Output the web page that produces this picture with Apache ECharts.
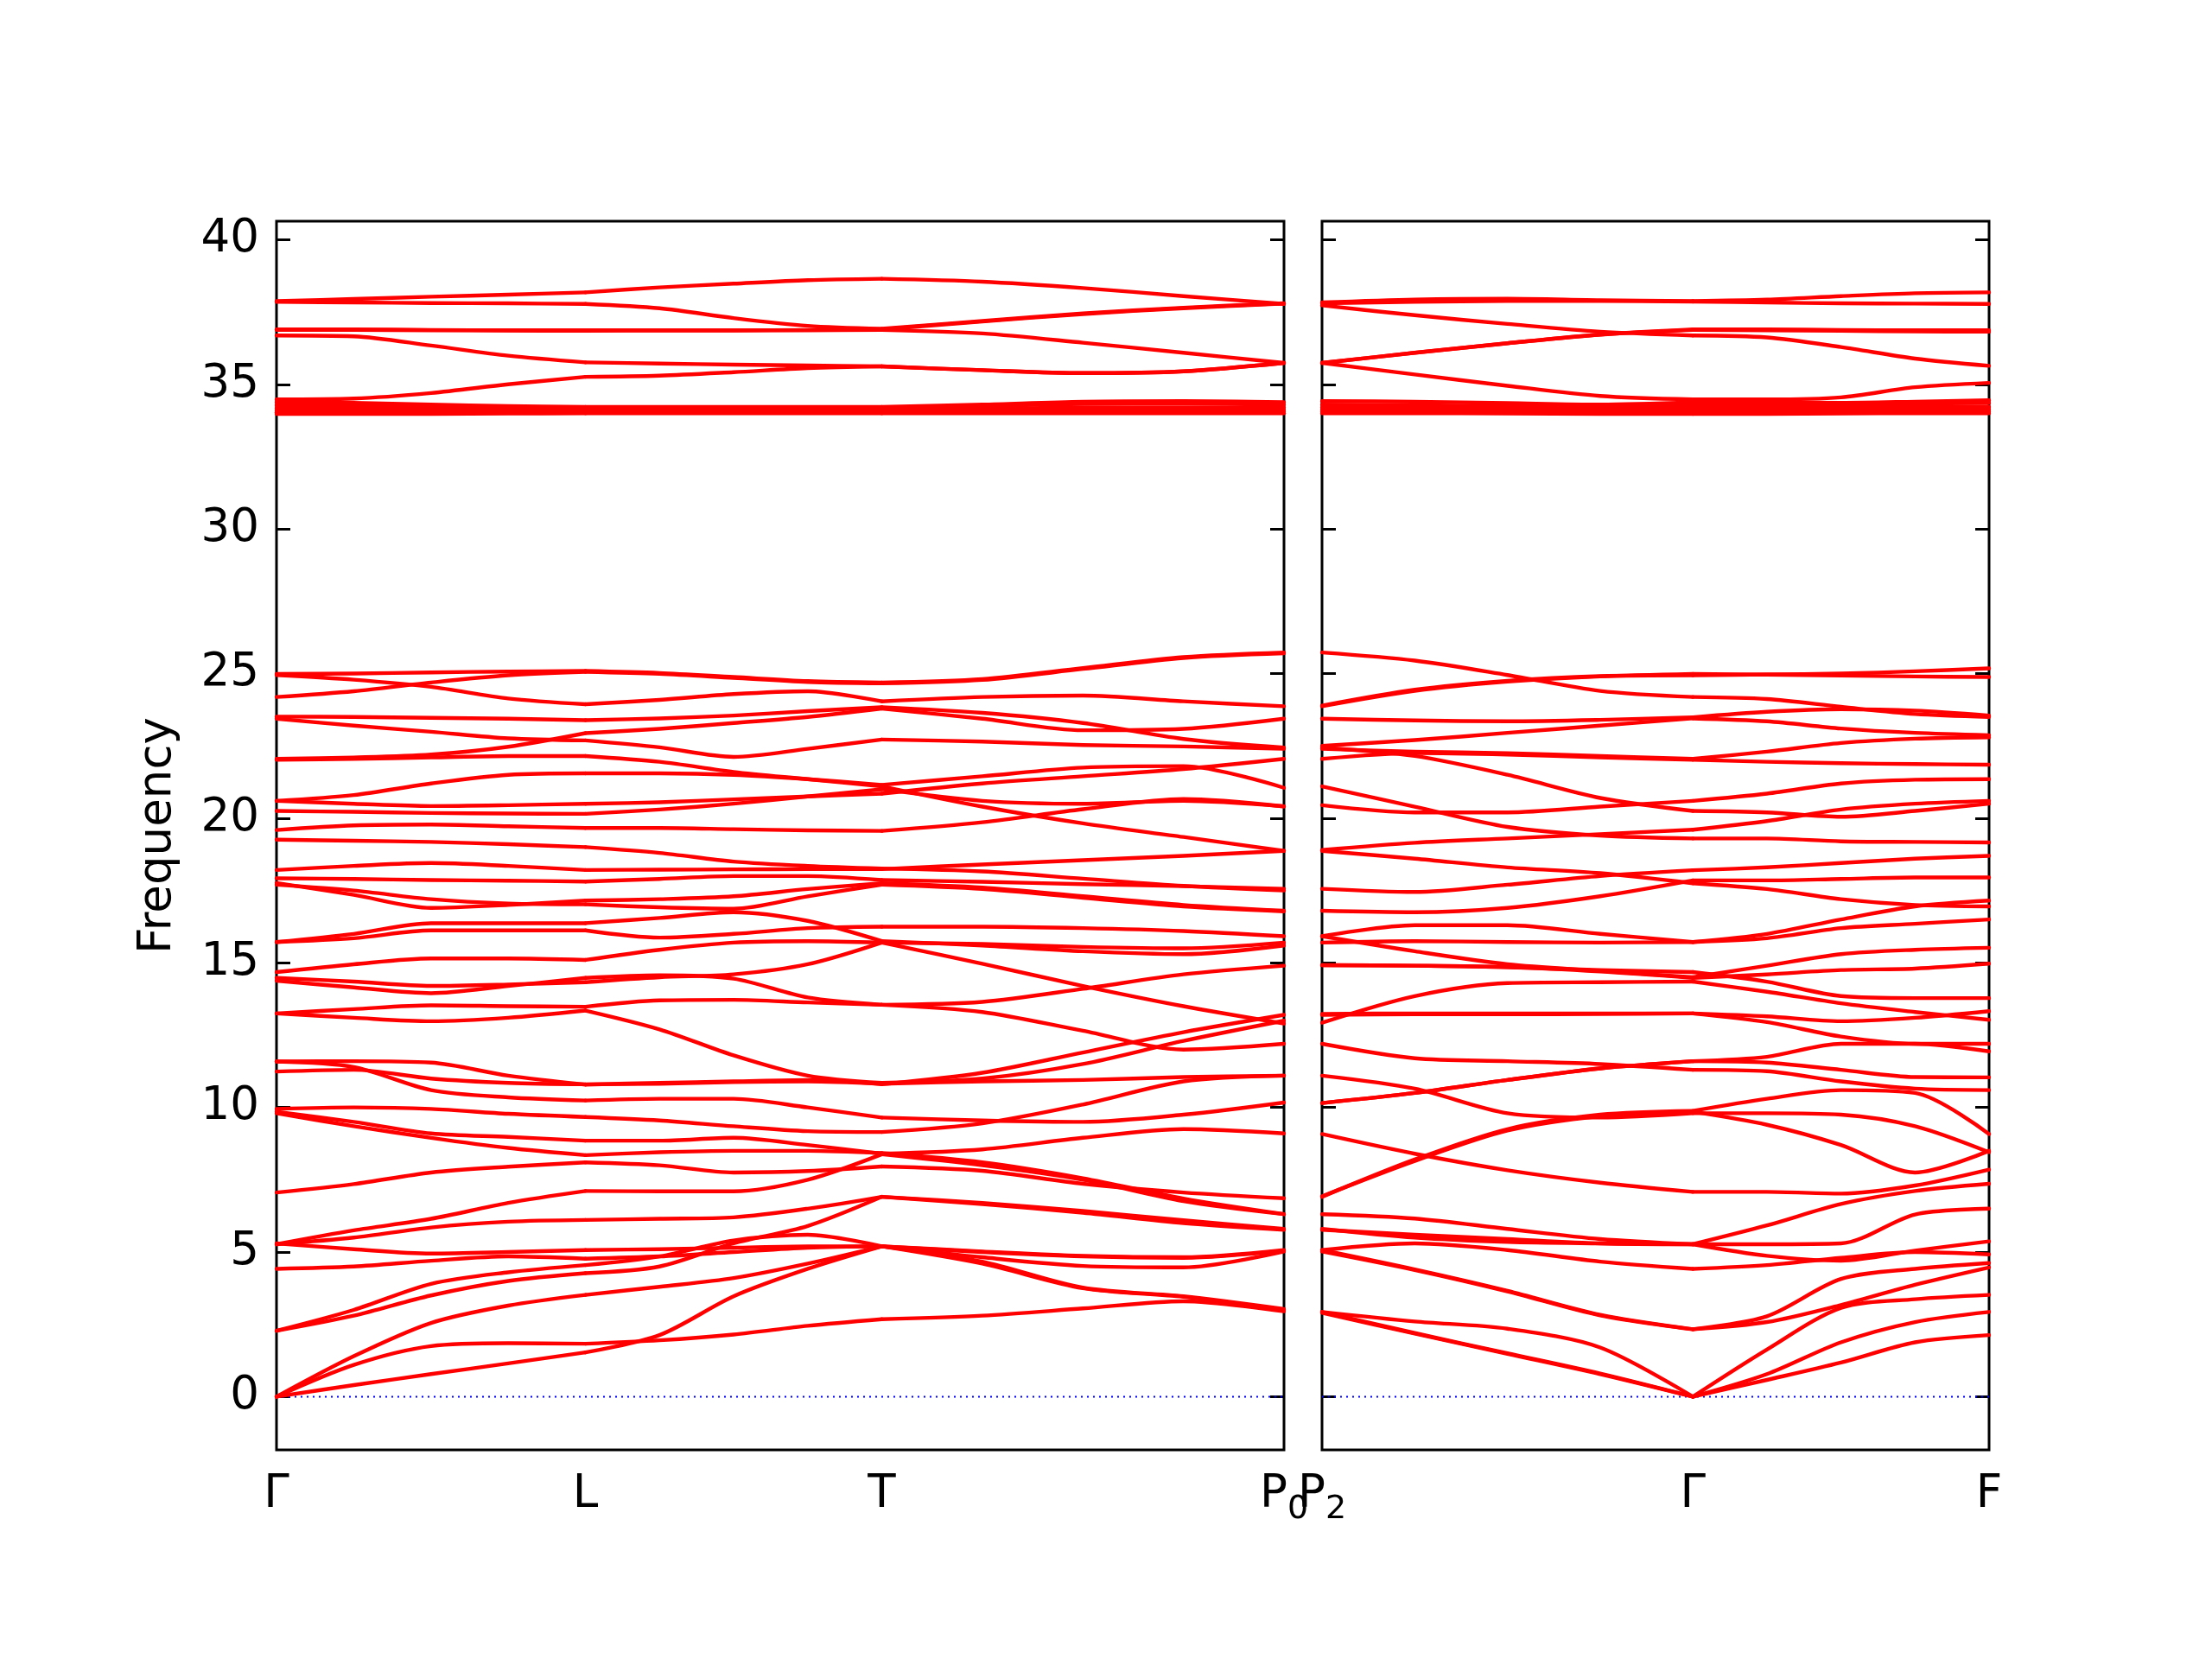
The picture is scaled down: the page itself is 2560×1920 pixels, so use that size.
<!DOCTYPE html>
<html><head><meta charset="utf-8">
<script src="https://cdn.jsdelivr.net/npm/echarts@6/dist/echarts.min.js"></script>
<style>html,body{margin:0;padding:0;background:#fff}#c{width:2560px;height:1920px}</style>
</head><body><div id="c"></div>
<script>
// ---- k-path (normalised distance) and labels ----
const leftKTicks = [0, 0.3067, 0.6008, 1.0];
const leftKLabels = ['Γ', 'L', 'T', '{p|P}{s|0}'];
const rightKTicks = [0, 0.556, 1.0];
const rightKLabels = ['{p|P}{s|2}', 'Γ', 'F'];
const yTickValues = [0, 5, 10, 15, 20, 25, 30, 35, 40];
// sample positions along each path, and index ranges of each path segment
const leftQ = [0, 0.0767, 0.1534, 0.23, 0.3067, 0.3802, 0.4537, 0.5273, 0.6008, 0.7006, 0.8004, 0.9002, 1.0];
const rightQ = [0, 0.139, 0.278, 0.417, 0.556, 0.667, 0.778, 0.889, 1.0];
const leftSegments = [[0, 4], [4, 8], [8, 12]];
const rightSegments = [[0, 4], [4, 8]];

// ---- left panel bands (Γ → L → T → P0) ----
const leftHigh = [
  [37.88, 37.95, 38.03, 38.1, 38.18, 38.35, 38.48, 38.6, 38.65, 38.55, 38.33, 38.05, 37.78],
  [37.85, 37.83, 37.81, 37.8, 37.78, 37.63, 37.29, 37.02, 36.92, 37.19, 37.45, 37.65, 37.8],
  [36.9, 36.9, 36.88, 36.87, 36.87, 36.87, 36.87, 36.88, 36.9, 37.17, 37.43, 37.63, 37.79],
  [36.88, 36.88, 36.87, 36.86, 36.85, 36.86, 36.86, 36.87, 36.88, 36.76, 36.44, 36.09, 35.74],
  [36.69, 36.66, 36.34, 35.99, 35.76, 35.72, 35.68, 35.65, 35.62, 35.49, 35.39, 35.45, 35.74],
  [34.48, 34.51, 34.7, 35.0, 35.26, 35.3, 35.42, 35.56, 35.62, 35.49, 35.39, 35.45, 35.74],
  [34.38, 34.36, 34.3, 34.25, 34.22, 34.22, 34.22, 34.22, 34.22, 34.3, 34.4, 34.42, 34.38],
  [34.28, 34.27, 34.25, 34.2, 34.18, 34.18, 34.18, 34.18, 34.18, 34.25, 34.32, 34.33, 34.3],
  [34.18, 34.17, 34.15, 34.13, 34.12, 34.12, 34.12, 34.12, 34.12, 34.15, 34.2, 34.2, 34.2],
  [34.1, 34.1, 34.08, 34.07, 34.07, 34.07, 34.07, 34.07, 34.07, 34.07, 34.1, 34.12, 34.12],
  [34.03, 34.03, 34.03, 34.03, 34.03, 34.03, 34.03, 34.03, 34.03, 34.03, 34.05, 34.05, 34.05],
  [33.98, 33.98, 33.98, 33.99, 34.0, 34.0, 34.0, 34.0, 34.0, 34.0, 34.0, 34.0, 34.0]
];
const leftUpper = [
  [24.99, 25.0, 25.04, 25.07, 25.09, 25.02, 24.88, 24.74, 24.69, 24.81, 25.19, 25.57, 25.73],
  [24.19, 24.39, 24.69, 24.94, 25.06, 24.99, 24.85, 24.71, 24.66, 24.78, 25.16, 25.54, 25.7],
  [24.95, 24.79, 24.54, 24.14, 23.94, 24.09, 24.29, 24.39, 24.04, 24.19, 24.24, 24.04, 23.87],
  [23.51, 23.5, 23.47, 23.44, 23.39, 23.45, 23.55, 23.7, 23.84, 23.64, 23.29, 22.74, 22.44],
  [23.44, 23.2, 22.99, 22.76, 22.69, 22.45, 22.12, 22.4, 22.72, 22.65, 22.53, 22.48, 22.4],
  [22.05, 22.1, 22.2, 22.47, 22.94, 23.09, 23.29, 23.5, 23.79, 23.44, 23.04, 23.09, 23.44],
  [22.02, 22.05, 22.1, 22.15, 22.15, 21.95, 21.6, 21.35, 21.1, 20.4, 19.82, 19.35, 18.87],
  [20.6, 20.8, 21.2, 21.5, 21.55, 21.55, 21.5, 21.35, 21.15, 21.45, 21.75, 21.8, 21.05],
  [20.6, 20.5, 20.42, 20.45, 20.5, 20.55, 20.65, 20.75, 20.85, 21.2, 21.45, 21.7, 22.05],
  [20.25, 20.22, 20.18, 20.16, 20.15, 20.3, 20.5, 20.75, 21.0, 20.6, 20.5, 20.6, 20.41],
  [19.59, 19.75, 19.78, 19.72, 19.66, 19.66, 19.62, 19.58, 19.56, 19.86, 20.31, 20.66, 20.41],
  [19.26, 19.22, 19.18, 19.1, 19.0, 18.8, 18.5, 18.35, 18.26, 18.16, 17.91, 17.66, 17.5],
  [18.21, 18.35, 18.45, 18.35, 18.21, 18.22, 18.23, 18.24, 18.24, 18.4, 18.55, 18.7, 18.87],
  [17.92, 17.9, 17.86, 17.84, 17.81, 17.9, 18.0, 18.0, 17.86, 17.8, 17.72, 17.65, 17.56],
  [17.76, 17.35, 16.9, 17.0, 17.15, 17.2, 17.3, 17.55, 17.75, 17.6, 17.3, 17.0, 16.8],
  [17.7, 17.5, 17.2, 17.05, 17.02, 16.92, 16.87, 17.3, 17.7, 17.55, 17.25, 16.95, 16.78]
];
const leftMiddle = [
  [15.72, 15.85, 16.12, 16.12, 16.12, 15.87, 16.0, 16.2, 16.25, 16.25, 16.2, 16.1, 15.92],
  [15.72, 16.0, 16.37, 16.37, 16.37, 16.55, 16.75, 16.45, 15.75, 15.6, 15.4, 15.3, 15.6],
  [14.68, 14.95, 15.15, 15.15, 15.1, 15.45, 15.7, 15.75, 15.7, 15.65, 15.55, 15.5, 15.7],
  [14.48, 14.35, 14.2, 14.25, 14.33, 14.5, 14.6, 14.95, 15.7, 14.97, 14.2, 13.5, 12.9],
  [14.38, 14.15, 13.95, 14.2, 14.48, 14.57, 14.45, 13.8, 13.55, 13.3, 12.65, 12.0, 12.2],
  [13.25, 13.4, 13.53, 13.5, 13.48, 13.7, 13.72, 13.63, 13.55, 13.65, 14.1, 14.6, 14.9],
  [13.25, 13.1, 12.98, 13.1, 13.35, 12.7, 11.8, 11.1, 10.85, 11.0, 11.5, 12.3, 13.0],
  [11.59, 11.6, 11.55, 11.1, 10.79, 10.85, 10.9, 10.95, 10.8, 11.2, 11.9, 12.6, 13.2],
  [11.24, 11.3, 11.0, 10.85, 10.8, 10.82, 10.88, 10.9, 10.82, 10.9, 10.95, 11.05, 11.1],
  [11.59, 11.4, 10.6, 10.35, 10.24, 10.3, 10.3, 10.0, 9.65, 9.55, 9.5, 9.75, 10.17]
];
const leftLow = [
  [9.95, 10.0, 9.95, 9.78, 9.67, 9.55, 9.35, 9.18, 9.15, 9.45, 10.1, 10.9, 11.1],
  [9.85, 9.5, 9.1, 8.98, 8.85, 8.85, 8.95, 8.7, 8.4, 8.55, 8.95, 9.25, 9.1],
  [9.8, 9.35, 8.95, 8.6, 8.35, 8.45, 8.5, 8.5, 8.42, 8.1, 7.55, 6.85, 6.31],
  [7.06, 7.35, 7.75, 7.95, 8.1, 8.0, 7.75, 7.8, 7.96, 7.81, 7.36, 7.06, 6.86],
  [5.27, 5.75, 6.15, 6.7, 7.11, 7.1, 7.1, 7.5, 8.38, 8.0, 7.5, 6.76, 6.31],
  [5.27, 5.5, 5.85, 6.05, 6.11, 6.15, 6.2, 6.5, 6.91, 6.66, 6.36, 6.0, 5.77],
  [5.3, 5.1, 4.95, 5.0, 5.07, 5.1, 5.15, 5.2, 5.2, 4.82, 4.52, 4.47, 5.02],
  [4.42, 4.5, 4.7, 4.85, 4.77, 4.85, 5.0, 5.15, 5.2, 4.67, 3.77, 3.47, 3.03],
  [2.28, 2.8, 3.5, 4.0, 4.27, 4.5, 5.3, 5.9, 6.91, 6.7, 6.42, 6.1, 5.8],
  [2.28, 3.0, 3.9, 4.3, 4.55, 4.85, 5.4, 5.6, 5.2, 5.02, 4.87, 4.82, 5.07],
  [0, 1.4, 2.55, 3.15, 3.52, 3.8, 4.1, 4.6, 5.2, 5.0, 4.85, 4.8, 5.05],
  [0, 1.1, 1.75, 1.85, 1.83, 1.95, 2.15, 2.45, 2.68, 2.8, 3.05, 3.3, 2.95],
  [0, 0.4, 0.78, 1.15, 1.53, 2.13, 3.47, 4.42, 5.2, 4.6, 3.75, 3.45, 3.0]
];

// ---- right panel bands (P2 → Γ → F) ----
const rightHigh = [
  [37.83, 37.93, 37.96, 37.91, 37.88, 37.93, 38.05, 38.15, 38.18],
  [37.8, 37.85, 37.88, 37.88, 37.86, 37.83, 37.8, 37.79, 37.78],
  [37.73, 37.39, 37.09, 36.82, 36.69, 36.62, 36.29, 35.89, 35.64],
  [35.74, 36.09, 36.42, 36.72, 36.9, 36.9, 36.88, 36.87, 36.87],
  [35.74, 36.09, 36.42, 36.72, 36.88, 36.87, 36.85, 36.83, 36.82],
  [35.74, 35.34, 34.95, 34.6, 34.48, 34.48, 34.55, 34.9, 35.05],
  [34.42, 34.4, 34.35, 34.3, 34.38, 34.38, 34.36, 34.4, 34.45],
  [34.3, 34.28, 34.25, 34.22, 34.28, 34.28, 34.3, 34.33, 34.35],
  [34.2, 34.18, 34.15, 34.15, 34.18, 34.18, 34.2, 34.22, 34.22],
  [34.12, 34.1, 34.08, 34.08, 34.1, 34.1, 34.12, 34.13, 34.13],
  [34.05, 34.04, 34.03, 34.03, 34.03, 34.04, 34.05, 34.05, 34.05],
  [34.0, 34.0, 33.99, 33.98, 33.98, 33.98, 33.99, 34.0, 34.0]
];
const rightUpper = [
  [25.73, 25.45, 24.95, 24.4, 24.19, 24.12, 23.85, 23.6, 23.5],
  [23.89, 24.44, 24.75, 24.91, 24.94, 24.97, 25.0, 25.08, 25.18],
  [23.87, 24.4, 24.72, 24.9, 24.99, 24.96, 24.93, 24.9, 24.88],
  [23.44, 23.38, 23.35, 23.4, 23.49, 23.68, 23.77, 23.72, 23.55],
  [22.5, 22.7, 22.95, 23.2, 23.45, 23.35, 23.1, 22.95, 22.87],
  [22.44, 22.15, 21.5, 20.7, 20.25, 20.2, 20.05, 20.25, 20.5],
  [22.05, 22.25, 22.2, 22.1, 22.02, 21.95, 21.9, 21.87, 21.85],
  [22.4, 22.3, 22.25, 22.15, 22.05, 22.3, 22.6, 22.75, 22.8],
  [21.1, 20.4, 19.7, 19.4, 19.3, 19.3, 19.2, 19.18, 19.16],
  [20.45, 20.2, 20.2, 20.4, 20.6, 20.85, 21.2, 21.33, 21.35],
  [18.9, 19.15, 19.3, 19.45, 19.6, 19.9, 20.3, 20.5, 20.6],
  [18.87, 18.6, 18.3, 18.1, 17.75, 17.55, 17.2, 17.0, 16.95],
  [17.56, 17.45, 17.7, 18.0, 18.2, 18.3, 18.45, 18.6, 18.7],
  [16.8, 16.75, 16.9, 17.3, 17.85, 17.85, 17.9, 17.95, 17.95]
];
const rightMiddle = [
  [15.92, 16.3, 16.3, 16.0, 15.72, 15.85, 16.2, 16.35, 16.5],
  [15.7, 15.75, 15.72, 15.7, 15.72, 16.0, 16.5, 16.95, 17.15],
  [15.92, 15.4, 14.95, 14.72, 14.5, 14.9, 15.3, 15.45, 15.52],
  [14.92, 14.9, 14.85, 14.7, 14.48, 14.6, 14.75, 14.8, 14.97],
  [14.92, 14.9, 14.85, 14.75, 14.68, 14.35, 13.85, 13.78, 13.78],
  [12.93, 13.85, 14.3, 14.33, 14.35, 14.0, 13.6, 13.3, 13.03],
  [13.23, 13.25, 13.25, 13.25, 13.25, 13.15, 12.98, 13.1, 13.33],
  [13.2, 13.22, 13.22, 13.23, 13.25, 12.95, 12.45, 12.2, 12.2],
  [12.2, 11.7, 11.6, 11.5, 11.3, 11.25, 10.9, 10.65, 10.6],
  [10.15, 10.5, 10.95, 11.35, 11.6, 11.75, 12.2, 12.2, 11.94],
  [10.15, 10.5, 10.95, 11.35, 11.6, 11.55, 11.3, 11.05, 11.04]
];
const rightLow = [
  [11.1, 10.65, 9.8, 9.65, 9.8, 9.8, 9.75, 9.35, 8.45],
  [6.91, 8.2, 9.25, 9.75, 9.88, 10.3, 10.6, 10.5, 9.08],
  [6.93, 8.15, 9.2, 9.7, 9.85, 9.4, 8.7, 7.75, 8.5],
  [9.08, 8.4, 7.83, 7.4, 7.08, 7.08, 7.02, 7.3, 7.85],
  [6.31, 6.16, 5.8, 5.45, 5.27, 5.92, 6.66, 7.11, 7.36],
  [5.77, 5.6, 5.45, 5.3, 5.27, 5.27, 5.3, 6.3, 6.5],
  [5.8, 5.5, 5.35, 5.3, 5.27, 4.87, 4.7, 5.05, 5.37],
  [5.07, 5.3, 5.07, 4.67, 4.42, 4.55, 4.8, 5.0, 4.92],
  [5.07, 4.4, 3.66, 2.83, 2.33, 2.78, 4.07, 4.42, 4.62],
  [5.02, 4.38, 3.64, 2.81, 2.33, 2.58, 3.17, 3.87, 4.47],
  [2.93, 2.6, 2.35, 1.7, 0, 1.63, 3.07, 3.37, 3.52],
  [2.93, 2.2, 1.5, 0.8, 0, 0.78, 1.88, 2.58, 2.93],
  [2.9, 2.18, 1.48, 0.78, 0, 0.58, 1.18, 1.88, 2.13]
];

// ---- build chart ----
const FONT = 'DejaVu Sans';
const leftBands = [].concat(leftHigh, leftUpper, leftMiddle, leftLow);
const rightBands = [].concat(rightHigh, rightUpper, rightMiddle, rightLow);

function bandSeries(bands, q, segs, idx) {
  const out = [];
  bands.forEach(b => {
    segs.forEach(([s, e]) => {
      const pts = [];
      for (let i = s; i <= e; i++) pts.push([q[i], b[i]]);
      out.push({
        type: 'line', xAxisIndex: idx, yAxisIndex: idx * 2,
        data: pts, showSymbol: false, smooth: 0.3, silent: true,
        lineStyle: { color: '#ff0000', width: 4.4, cap: 'round', join: 'round' }, z: 3
      });
    });
  });
  return out;
}
function zeroSeries(idx) {
  return {
    type: 'line', xAxisIndex: idx, yAxisIndex: idx * 2,
    data: [[0, 0], [1, 0]], showSymbol: false, silent: true,
    lineStyle: { color: '#0000ff', width: 2, type: [2, 5] }, z: 2
  };
}
const labelRich = {
  p: { fontFamily: FONT, fontSize: 53, color: '#000', lineHeight: 62, verticalAlign: 'top' },
  s: { fontFamily: FONT, fontSize: 38, color: '#000', lineHeight: 44, padding: [24, 0, 0, 0], verticalAlign: 'bottom' }
};
function xAxisFor(idx, ticks, labels) {
  return {
    type: 'value', gridIndex: idx, min: 0, max: 1, position: 'bottom',
    axisLine: { show: false, onZero: false }, splitLine: { show: false },
    axisTick: { show: false },
    axisLabel: { show: true, customValues: ticks, margin: 26,
                 fontFamily: FONT, fontSize: 53, color: '#000', rich: labelRich,
                 formatter: v => { const k = ticks.findIndex(t => Math.abs(t - v) < 1e-6); return k >= 0 ? labels[k] : ''; } }
  };
}
function yAxesFor(idx, withLabels) {
  const common = {
    type: 'value', gridIndex: idx, min: -1.84, max: 40.64,
    axisLine: { show: false, onZero: false }, splitLine: { show: false },
    axisTick: { show: true, inside: true, length: 16, customValues: yTickValues,
                lineStyle: { color: '#000', width: 3 } }
  };
  const leftAx = Object.assign({}, common, {
    position: 'left',
    axisLabel: { show: withLabels, customValues: yTickValues, margin: 20,
                 fontFamily: FONT, fontSize: 53, color: '#000' }
  });
  if (withLabels) {
    Object.assign(leftAx, {
      name: 'Frequency', nameLocation: 'middle', nameRotate: 90, nameGap: 110,
      nameTextStyle: { fontFamily: FONT, fontSize: 53, color: '#000' }
    });
  }
  const rightAx = Object.assign({}, common, {
    position: 'right', axisLabel: { show: false }
  });
  return [leftAx, rightAx];
}

const chart = echarts.init(document.getElementById('c'), null, { renderer: 'canvas' });
chart.setOption({
  animation: false,
  backgroundColor: '#ffffff',
  grid: [
    { left: 320, top: 256, width: 1166, height: 1422, show: true, borderColor: '#000', borderWidth: 3, backgroundColor: 'transparent' },
    { left: 1530, top: 256, width: 772, height: 1422, show: true, borderColor: '#000', borderWidth: 3, backgroundColor: 'transparent' }
  ],
  xAxis: [xAxisFor(0, leftKTicks, leftKLabels), xAxisFor(1, rightKTicks, rightKLabels)],
  yAxis: [].concat(yAxesFor(0, true), yAxesFor(1, false)),
  series: [zeroSeries(0), zeroSeries(1)]
    .concat(bandSeries(leftBands, leftQ, leftSegments, 0))
    .concat(bandSeries(rightBands, rightQ, rightSegments, 1))
});
</script>
</body></html>
